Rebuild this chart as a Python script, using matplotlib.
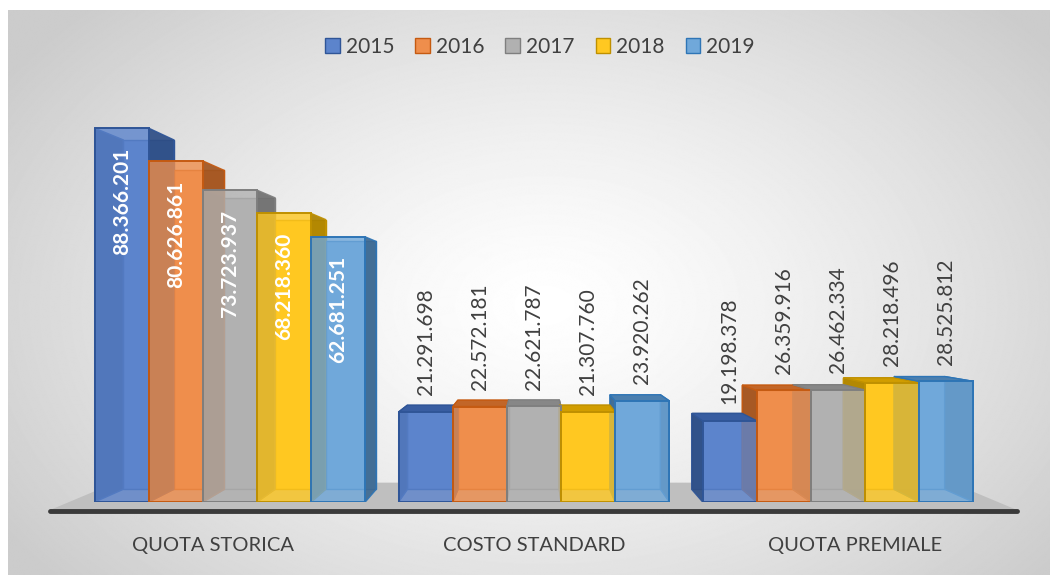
import numpy as np
import matplotlib
matplotlib.use("Agg")
import matplotlib.pyplot as plt
from matplotlib.patches import Polygon, Patch
from matplotlib.colors import to_rgb

# data
categories = ["QUOTA STORICA", "COSTO STANDARD", "QUOTA PREMIALE"]
years = ["2015", "2016", "2017", "2018", "2019"]
v2015 = [88366201, 21291698, 19198378]
v2016 = [80626861, 22572181, 26359916]
v2017 = [73723937, 22621787, 26462334]
v2018 = [68218360, 21307760, 28218496]
v2019 = [62681251, 23920262, 28525812]
series = [v2015, v2016, v2017, v2018, v2019]

colors = ["#4472C4", "#ED7D31", "#A5A5A5", "#FFC000", "#5B9BD5"]
edges = ["#2F5597", "#C55A11", "#7F7F7F", "#BF9000", "#2E75B6"]
txt = "#404040"

plt.rcParams['font.family'] = ['Lato', 'DejaVu Sans']

W, H = 1050, 575
fig = plt.figure(figsize=(W / 100, H / 100), dpi=100)
fig.patch.set_facecolor("white")

# radial gradient background panel
bg = fig.add_axes([0, 0, 1, 1])
bg.axis("off")
bg.set_xlim(0, W)
bg.set_ylim(H, 0)
yy, xx = np.mgrid[0:H, 0:W]
r = np.sqrt(((xx - 540) / 640) ** 2 + ((yy - 300) / 430) ** 2)
g = 1 - 0.2 * np.clip(r, 0, 1) ** 1.3
bg.imshow(g, cmap="gray", vmin=0, vmax=1, extent=(8, W, H, 10), aspect="auto")

# main axes
ax = fig.add_axes([50 / W, (H - 502) / H, 967 / W, 423 / H])
ax.set_xlim(-0.592, 2.589)
ax.set_ylim(0, 100e6)
ax.axis("off")
ax.patch.set_alpha(0)

to_px = ax.transData.transform
to_data = ax.transData.inverted().transform
vp = ax.transAxes.transform((0.5, 0.46))


def push_back(pts, k):
    p = to_px(np.asarray(pts, dtype=float))
    return to_data(p + k * (vp - p))


def shade(c, f):
    return tuple(np.array(to_rgb(c)) * f)


def tint(c, f):
    a = np.array(to_rgb(c))
    return tuple(a * (1 - f) + f)


# floor
fl = ax.transAxes.transform([(0, 0), (1, 0)]) - np.array([0, 8])
fl_back = fl + 0.135 * (vp - fl)
floor = to_data(np.vstack([fl, fl_back[::-1]]))
ax.add_patch(Polygon(floor, closed=True, facecolor="#bfbfbf", edgecolor="none",
                     zorder=1, clip_on=False))
fe = to_data(fl - np.array([0, 1]))
ax.plot(fe[:, 0], fe[:, 1], color="#3a3a3a", lw=3.5, solid_capstyle="round",
        zorder=1.5, clip_on=False)

bw = 0.178
K = 0.065
x = np.arange(len(categories))

for gi in range(len(categories)):
    for si in range(len(years)):
        h = series[si][gi]
        xc = x[gi] + (si - 2) * bw
        x0, x1 = xc - bw / 2, xc + bw / 2
        front = [(x0, 0), (x1, 0), (x1, h), (x0, h)]
        bk = push_back(front, K)
        c, e = colors[si], edges[si]
        fc = tint(c, 0.13)
        # back face and inner sides
        ax.add_patch(Polygon(bk, facecolor=fc, edgecolor=e, lw=1, zorder=2))
        left = [front[0], bk[0], bk[3], front[3]]
        right = [front[1], bk[1], bk[2], front[2]]
        fx = to_px([(xc, 0)])[0][0]
        outer, inner = (right, left) if fx < vp[0] else (left, right)
        ax.add_patch(Polygon(inner, facecolor=shade(c, 0.62), edgecolor=e, lw=1, zorder=2))
        ax.add_patch(Polygon(outer, facecolor=shade(c, 0.68), edgecolor=e, lw=1,
                             alpha=0.92, zorder=2.2))
        if to_px([(xc, h)])[0][1] < vp[1]:
            top = [front[3], front[2], bk[2], bk[3]]
            ax.add_patch(Polygon(top, facecolor=shade(c, 0.82), edgecolor=e, lw=1, zorder=2.3))
        # front face
        ax.add_patch(Polygon(front, facecolor=fc, edgecolor="none", alpha=0.8, zorder=3))
        ax.add_patch(Polygon(front, facecolor="none", edgecolor=e, lw=1.4, zorder=3.1))

        label = f"{h:,}".replace(",", ".")
        if gi == 0:
            ax.annotate(label, (xc, h), xytext=(0, -14), textcoords="offset points",
                        rotation=90, ha="center", va="top", color="white",
                        fontweight="bold", fontsize=15, zorder=5)
        else:
            ax.annotate(label, (xc, h), xytext=(0, 12), textcoords="offset points",
                        rotation=90, ha="center", va="bottom", color=txt,
                        fontsize=15, zorder=5)

# category labels, spread outward like the perspective floor
for gi, cat in enumerate(categories):
    px = to_px([(x[gi], 0)])[0][0]
    dx = (px - vp[0]) * 0.056 * 0.72
    ax.annotate(cat, (x[gi], 0), xytext=(dx, -31), textcoords="offset points",
                ha="center", va="center", color=txt, fontsize=14.5)

handles = [Patch(facecolor=tint(colors[i], 0.13), edgecolor=edges[i]) for i in range(5)]
fig.legend(handles, years, loc="center", bbox_to_anchor=(540 / W, 1 - 47 / H),
           ncol=5, frameon=False, fontsize=15, handlelength=0.7, handleheight=0.7,
           handletextpad=0.3, columnspacing=1.0, labelcolor=txt)

fig.savefig("out.png", dpi=100)
